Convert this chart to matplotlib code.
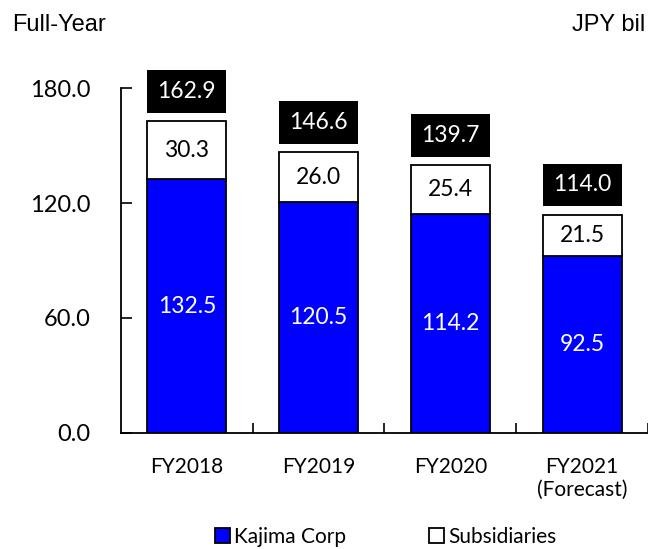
import numpy as np
import matplotlib.pyplot as plt

categories = ["FY2018", "FY2019", "FY2020", "FY2021\n(Forecast)"]
kajima = [132.5, 120.5, 114.2, 92.5]
subsidiaries = [30.3, 26.0, 25.4, 21.5]
totals = [162.9, 146.6, 139.7, 114.0]
y_ticks = [0.0, 60.0, 120.0, 180.0]

BODY_FONT = "Lato"
HEAD_FONT = "Liberation Sans"

fig = plt.figure(figsize=(6.48, 5.49), dpi=100)
ax = fig.add_axes([0.1867, 0.2113, 0.8133, 0.6284])

x = np.arange(len(categories))
w = 0.6

b1 = ax.bar(x, kajima, w, color="#0000ff", edgecolor="black", linewidth=1.3,
            label="Kajima Corp")
b2 = ax.bar(x, subsidiaries, w, bottom=kajima, color="white",
            edgecolor="black", linewidth=1.3, label="Subsidiaries")

# black total boxes above the stacks
gap = 4.2
box_h = 22.4
ax.bar(x, box_h, w, bottom=np.array(totals) + gap, color="black",
       clip_on=False)

for i in range(len(x)):
    ax.text(x[i], kajima[i] / 2, "%.1f" % kajima[i], ha="center",
            va="center", color="white", fontsize=16.5, family=BODY_FONT)
    ax.text(x[i], kajima[i] + subsidiaries[i] / 2, "%.1f" % subsidiaries[i],
            ha="center", va="center", color="black", fontsize=16.5,
            family=BODY_FONT)
    ax.text(x[i], totals[i] + gap + box_h / 2, "%.1f" % totals[i],
            ha="center", va="center", color="white", fontsize=16.5,
            family=BODY_FONT, clip_on=False)

ax.set_xlim(-0.5, len(x) - 0.5)
ax.set_ylim(0, 180)
ax.set_yticks(y_ticks, ["%.1f" % v for v in y_ticks], family=BODY_FONT,
              fontsize=17)
ax.tick_params(axis="y", direction="in", length=8, width=1.2, pad=22)

ax.set_xticks(x, categories, family=BODY_FONT, fontsize=15)
ax.tick_params(axis="x", length=0, pad=17)
ax.set_xticks(np.arange(len(x)) + 0.5, minor=True)
ax.tick_params(axis="x", which="minor", direction="in", length=7, width=1.2)

for s in ["top", "right"]:
    ax.spines[s].set_visible(False)
for s in ["left", "bottom"]:
    ax.spines[s].set_linewidth(1.3)

fig.text(0.019, 0.955, "Full-Year", ha="left", va="center", fontsize=17,
         family=HEAD_FONT)
fig.text(0.995, 0.955, "JPY bil", ha="right", va="center", fontsize=17,
         family=HEAD_FONT)

fig.legend(handles=[b1, b2], loc="center", bbox_to_anchor=(0.595, 0.022),
           ncol=2, frameon=False, prop={"family": BODY_FONT, "size": 15},
           handlelength=0.7, handleheight=0.7, handletextpad=0.2,
           columnspacing=4.0)

fig.savefig("out.png", dpi=100)
